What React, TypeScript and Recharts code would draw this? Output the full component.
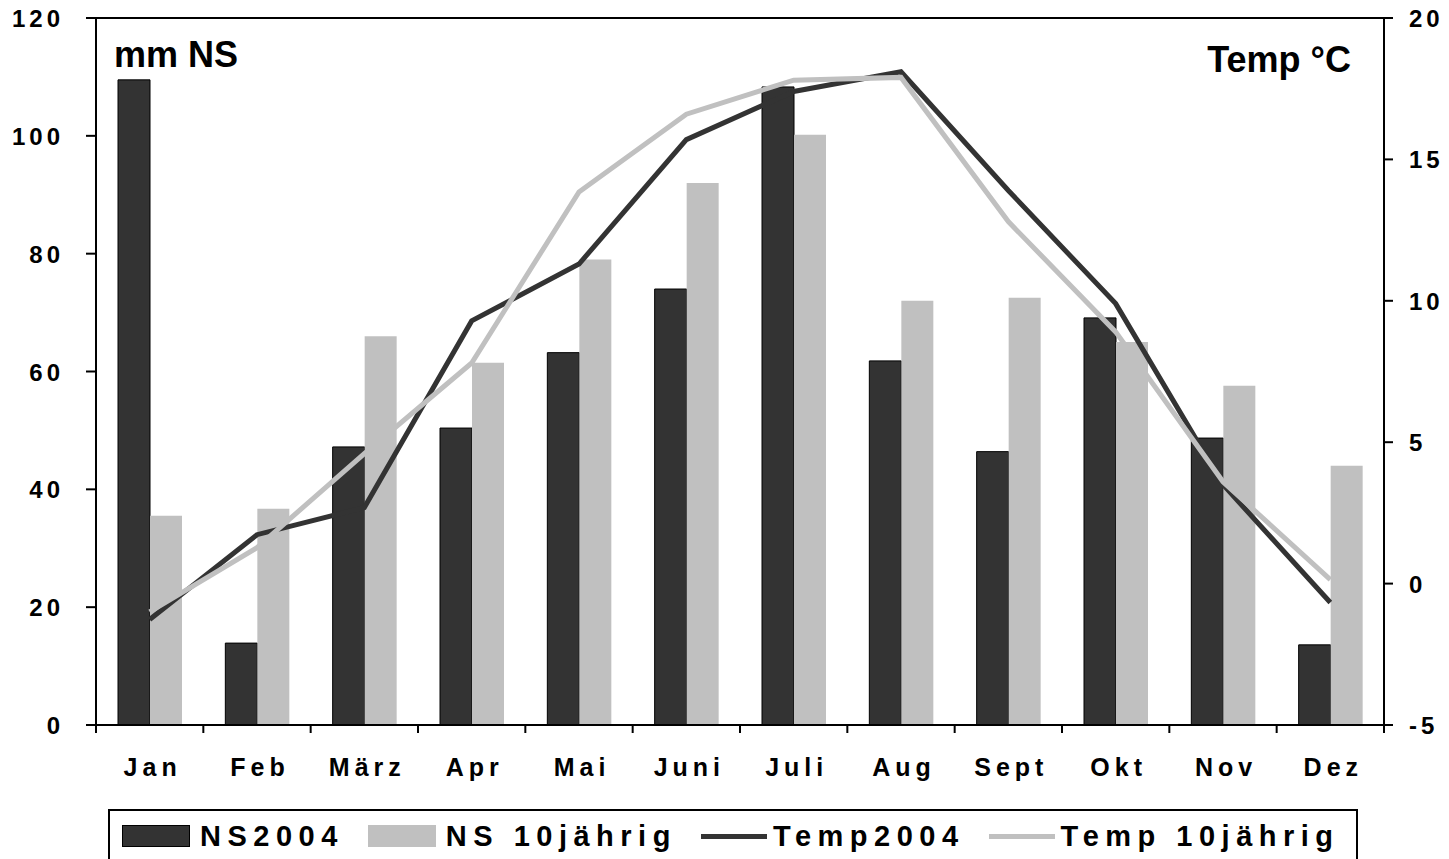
import { ComposedChart, Bar, Line, XAxis, YAxis, Legend, ReferenceLine } from 'recharts';

const months = ['Jan', 'Feb', 'März', 'Apr', 'Mai', 'Juni', 'Juli', 'Aug', 'Sept', 'Okt', 'Nov', 'Dez'];
const ns2004 = [109.5, 13.9, 47.2, 50.4, 63.2, 74, 108.3, 61.8, 46.4, 69.1, 48.7, 13.6];
const ns10 = [35.5, 36.7, 66, 61.5, 79, 92, 100.2, 72, 72.5, 65, 57.6, 44];
const temp2004 = [-1.27, 1.73, 2.69, 9.29, 11.3, 15.7, 17.4, 18.1, 13.9, 9.9, 3.5, -0.67];
const temp10 = [-1.0, 1.27, 4.6, 7.8, 13.85, 16.6, 17.8, 17.9, 12.8, 8.9, 3.6, 0.14];
const leftTicks = [0, 20, 40, 60, 80, 100, 120];
const rightTicks = [-5, 0, 5, 10, 15, 20];
const legendOrder = ['NS2004', 'NS 10jährig', 'Temp2004', 'Temp 10jährig'];

const data = months.map((m, i) => ({
  month: m,
  ns2004: ns2004[i],
  ns10: ns10[i],
  temp2004: temp2004[i],
  temp10: temp10[i],
}));

const FONT = '"Liberation Sans", Arial, sans-serif';
const DARK = '#333333';
const LIGHT = '#c0c0c0';

const MonthTick = (props: any) => {
  const { x, y, payload, index } = props;
  const half = payload.offset || 53.7;
  return (
    <g>
      <line x1={x - half} x2={x - half} y1={y - 8} y2={y} stroke="#000" strokeWidth={2} />
      {index === months.length - 1 && (
        <line x1={x + half} x2={x + half} y1={y - 8} y2={y} stroke="#000" strokeWidth={2} />
      )}
      <text x={x + 3} y={y + 43} textAnchor="middle" fontFamily={FONT} fontWeight="bold" fontSize={25} letterSpacing={5} fill="#000">
        {payload.value}
      </text>
    </g>
  );
};

const LeftTick = (props: any) => {
  const { x, y, payload } = props;
  return (
    <text x={x - 20} y={y + 9} textAnchor="end" fontFamily={FONT} fontWeight="bold" fontSize={24} letterSpacing={4} fill="#000">
      {payload.value}
    </text>
  );
};

const RightTick = (props: any) => {
  const { x, y, payload } = props;
  return (
    <text x={x + 14} y={y + 9} textAnchor="start" fontFamily={FONT} fontWeight="bold" fontSize={24} letterSpacing={4} fill="#000">
      {payload.value}
    </text>
  );
};

const LegendBox = (props: any) => {
  const items = [...(props.payload || [])].sort(
    (a: any, b: any) => legendOrder.indexOf(a.value) - legendOrder.indexOf(b.value)
  );
  return (
    <div
      style={{
        border: '2px solid #000',
        height: 62,
        boxSizing: 'border-box',
        display: 'flex',
        alignItems: 'flex-start',
        paddingTop: 13,
        paddingLeft: 12,
        fontFamily: FONT,
        fontWeight: 'bold',
        fontSize: 29,
        letterSpacing: 6.5,
        color: '#000',
        whiteSpace: 'nowrap',
      }}
    >
      {items.map((p: any) => (
        <div key={p.value} style={{ display: 'flex', alignItems: 'center', marginRight: 24 }}>
          {p.type === 'line' ? (
            <div style={{ width: 66, height: 5, background: p.color, marginRight: 6 }} />
          ) : (
            <div
              style={{
                width: 68,
                height: 22,
                boxSizing: 'border-box',
                background: p.color,
                border: p.value === 'NS2004' ? '1px solid #000' : 'none',
                marginRight: 10,
              }}
            />
          )}
          <span style={{ lineHeight: '24px' }}>{p.value}</span>
        </div>
      ))}
    </div>
  );
};

export default function App() {
  return (
    <div style={{ position: 'absolute', left: 0, top: 0, width: 1449, height: 859, background: '#fff', overflow: 'hidden' }}>
      <ComposedChart
        width={1449}
        height={880}
        data={data}
        margin={{ top: 18, right: 0, bottom: 0, left: 0 }}
        barGap={0}
        barSize={32}
      >
        <XAxis
          dataKey="month"
          xAxisId="cat"
          height={155}
          tick={<MonthTick />}
          tickLine={false}
          axisLine={{ stroke: '#000', strokeWidth: 2 }}
          interval={0}
        />
        <YAxis
          yAxisId="left"
          orientation="left"
          width={96}
          domain={[0, 120]}
          ticks={leftTicks}
          tick={<LeftTick />}
          tickSize={10}
          tickLine={{ stroke: '#000', strokeWidth: 2 }}
          axisLine={{ stroke: '#000', strokeWidth: 2 }}
        />
        <YAxis
          yAxisId="right"
          orientation="right"
          width={65}
          domain={[-5, 20]}
          ticks={rightTicks}
          tick={<RightTick />}
          tickSize={9}
          tickLine={{ stroke: '#000', strokeWidth: 2 }}
          axisLine={{ stroke: '#000', strokeWidth: 2 }}
        />
        <ReferenceLine yAxisId="left" xAxisId="cat" y={120} stroke="#000" strokeWidth={2} ifOverflow="visible" />
        <Bar xAxisId="cat" yAxisId="left" dataKey="ns2004" name="NS2004" fill={DARK} stroke="#000" strokeWidth={1} legendType="rect" isAnimationActive={false} />
        <Bar xAxisId="cat" yAxisId="left" dataKey="ns10" name="NS 10jährig" fill={LIGHT} legendType="rect" isAnimationActive={false} />
        <Line xAxisId="cat" yAxisId="right" dataKey="temp2004" name="Temp2004" stroke={DARK} strokeWidth={5} dot={false} legendType="line" isAnimationActive={false} />
        <Line xAxisId="cat" yAxisId="right" dataKey="temp10" name="Temp 10jährig" stroke={LIGHT} strokeWidth={5} dot={false} legendType="line" isAnimationActive={false} />
        <Legend
          layout="horizontal"
          verticalAlign="middle"
          align="center"
          content={<LegendBox />}
          wrapperStyle={{ position: 'absolute', left: 108, top: 809, width: 1250, height: 62 }}
        />
        <text x={114} y={67} textAnchor="start" fontFamily={FONT} fontWeight="bold" fontSize={36} fill="#000">
          mm NS
        </text>
        <text x={1351} y={72} textAnchor="end" fontFamily={FONT} fontWeight="bold" fontSize={36} fill="#000">
          Temp °C
        </text>
      </ComposedChart>
    </div>
  );
}
